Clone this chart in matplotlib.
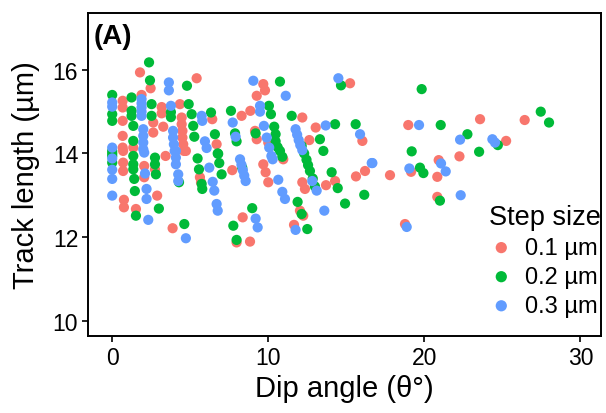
import matplotlib
matplotlib.use("Agg")
import matplotlib.pyplot as plt

plt.rcParams["font.family"] = ["Liberation Sans", "DejaVu Sans"]

# ----- data (dip angle in degrees, track length in um) -----
red_x = [1.78, 2.46, 0.67, 0.67, 1.88, 3.17, 3.17, 4.34, 4.45, 4.45, 4.5, 4.5, 4.55, 4.6,
         0.67, 0.67, 0.67, 1.35, 2.63, 2.63, 3.27,
         0.7, 0.7, 0.7, 2.05, 2.05, 2.74, 3.42, 4.72, 0.75, 0.75, 1.52, 2.88, 3.87,
         5.41, 9.68, 9.79, 9.26, 6.41, 6.69, 8.29, 8.85, 9.15, 9.26, 10.0,
         15.24, 12.18, 13.04, 16.03, 12.63,
         7.69, 5.62, 5.69, 9.68, 9.83, 10.0, 8.36, 7.97, 8.83,
         10.96, 12.18, 12.35, 13.70, 14.28, 15.62, 16.2, 12.03, 12.24, 11.65,
         18.97, 23.57, 26.43, 25.24, 22.25, 20.92, 19.15, 20.83, 17.80, 20.83, 18.76]
red_y = [15.94, 15.56, 15.26, 15.10, 15.40, 15.11, 14.96, 15.18, 14.86, 14.70, 14.54, 14.38, 14.22, 14.06,
         14.78, 14.42, 14.14, 14.14, 14.74, 14.50, 14.64,
         14.06, 13.78, 13.58, 13.70, 13.43, 13.62, 13.94, 14.06, 12.89, 12.71, 12.67, 12.99, 12.21,
         15.80, 15.66, 15.51, 15.38, 14.82, 14.22, 14.90, 15.02, 14.54, 14.34, 14.26,
         15.68, 14.86, 14.62, 14.30, 14.32,
         13.60, 13.43, 13.31, 13.74, 13.55, 13.31, 12.47, 11.87, 11.89,
         13.86, 13.31, 13.15, 13.24, 13.34, 13.45, 13.58, 12.63, 12.51, 12.29,
         14.68, 14.82, 14.80, 14.30, 13.93, 13.84, 13.56, 13.44, 13.48, 12.96, 12.31]

green_x = [2.36, 2.42, 4.79, 0.0, 1.24, 1.24, 1.24, 2.52, 2.52, 3.76, 3.76, 4.9, 0.0, 0.0,
           1.35, 1.35, 0.0,
           0.0, 0.0, 0.0, 1.35, 1.35, 1.35, 1.41, 1.45, 2.74, 2.74, 2.8, 4.28, 1.52, 2.99, 4.62,
           5.09, 6.33, 5.19, 5.26, 6.58, 6.76, 7.61, 10.04, 10.17, 7.87, 7.97, 9.19,
           10.38, 10.47, 10.47, 10.6, 10.75, 10.9, 10.75,
           12.14, 12.3, 12.45, 12.55, 12.67, 12.85, 12.99,
           14.66, 11.50, 14.28, 15.60, 13.31, 13.53,
           5.47, 5.56, 6.79, 6.86, 7.01, 8.33, 5.73, 5.77, 8.97, 7.76, 7.97,
           14.06, 14.45, 14.92, 16.15, 11.88, 12.14, 12.5,
           19.83, 21.05, 27.46, 27.99, 22.76, 24.71, 23.51, 19.19, 19.72, 19.94, 21.0]
green_y = [16.18, 15.75, 15.62, 15.40, 15.34, 15.02, 14.90, 15.18, 14.90, 14.99, 14.87, 15.18, 14.94, 14.78,
           14.66, 14.30, 14.0,
           14.06, 13.94, 13.78, 13.94, 13.74, 13.62, 13.39, 13.10, 13.90, 13.74, 13.50, 13.31, 12.51, 12.68, 12.31,
           14.94, 14.98, 14.66, 14.40, 14.46, 14.0, 15.02, 15.14, 14.94, 14.48, 14.29, 14.48,
           14.64, 14.46, 14.29, 14.15, 14.06, 13.92, 15.72,
           14.18, 14.0, 13.85, 13.72, 13.58, 13.40, 13.21,
           15.63, 14.90, 14.70, 14.70, 14.34, 14.06,
           13.88, 13.62, 13.99, 13.77, 13.50, 13.66, 13.27, 13.15, 12.69, 12.27, 11.93,
           13.55, 13.17, 12.80, 13.01, 12.84, 12.55, 12.19,
           15.54, 14.68, 15.0, 14.74, 14.46, 14.20, 14.04, 14.05, 13.66, 13.53, 12.87]

blue_x = [3.63, 3.63, 0.0, 0.0, 1.88, 1.88, 1.88, 1.88, 1.88, 3.76, 3.9, 3.9, 3.95, 4.0,
          0.0, 1.99, 1.99, 1.99, 1.99,
          0.0, 0.0, 0.0, 2.05, 2.1, 4.08, 4.08, 4.08, 4.23, 4.23, 0.0, 2.2, 2.2, 2.31, 4.72,
          9.04, 5.73, 5.77, 5.94, 6.05, 9.47, 9.47, 7.72, 7.91, 9.72, 9.90, 10.06, 10.2, 10.28,
          11.12, 14.49, 13.68, 15.88, 11.75, 11.85, 11.95, 12.05, 12.18,
          6.22, 8.19, 8.28, 8.37, 8.46, 8.55, 6.44, 6.54, 6.69, 6.76, 10.64, 10.9, 11.07,
          9.19, 9.32,
          12.82, 13.1, 16.63, 13.59, 11.75,
          19.66, 22.29, 24.36, 24.53, 21.07, 21.37, 19.04, 16.67, 22.33, 18.87]
blue_y = [15.70, 15.51, 15.22, 15.12, 15.30, 15.20, 15.10, 15.00, 14.90, 15.14, 14.54, 14.38, 14.22, 14.06,
          14.14, 14.58, 14.42, 14.26, 14.10,
          13.88, 13.61, 13.39, 14.02, 13.52, 14.06, 13.90, 13.74, 13.50, 13.34, 12.99, 13.15, 12.91, 12.41, 11.97,
          15.74, 14.90, 14.78, 14.29, 14.13, 15.14, 15.0, 14.74, 14.40, 14.66, 14.38, 14.14, 13.94, 13.86,
          15.38, 15.80, 14.67, 14.46, 14.58, 14.45, 14.32, 14.20, 14.08,
          13.66, 13.86, 13.73, 13.60, 13.47, 13.34, 13.32, 13.11, 12.79, 12.63, 13.37, 13.08, 12.91,
          12.44, 12.23,
          13.34, 13.11, 13.77, 12.63, 12.17,
          14.68, 14.33, 14.34, 14.26, 13.76, 13.57, 13.64, 13.77, 13.00, 12.24]

step_labels = ["0.1 µm", "0.2 µm", "0.3 µm"]
colors = ["#F8766D", "#00BA38", "#619CFF"]

fig = plt.figure(figsize=(6.06, 4.14), dpi=100)
ax = fig.add_axes([0.145, 0.186, 0.847, 0.780])

for xs, ys, lab, c in zip([red_x, green_x, blue_x], [red_y, green_y, blue_y],
                          step_labels, colors):
    ax.scatter(xs, ys, s=54, color=c, edgecolors="none", label=lab)

ax.set_xlim(-1.56, 31.33)
ax.set_ylim(9.63, 17.36)
ax.set_xticks([0, 10, 20, 30])
ax.set_yticks([10, 12, 14, 16])
ax.tick_params(direction="out", length=4, width=1.2, labelsize=16.5, color="black",
               labelcolor="black", pad=3)
for sp in ax.spines.values():
    sp.set_linewidth(1.4)
    sp.set_color("black")

ax.set_xlabel("Dip angle (θ°)", fontsize=21, labelpad=4)
ax.set_ylabel("Track length (µm)", fontsize=21, labelpad=9)
ax.text(0.012, 0.968, "(A)", transform=ax.transAxes, fontsize=20,
        fontweight="bold", ha="left", va="top")

leg = ax.legend(title="Step size", loc="lower right", bbox_to_anchor=(1.028, 0.015),
                frameon=False, fontsize=17, title_fontsize=19.5, alignment="left",
                handlelength=1.0, handletextpad=0.5, labelspacing=0.3,
                borderaxespad=0.2, markerscale=1.1)

fig.savefig("out.png", dpi=100)
